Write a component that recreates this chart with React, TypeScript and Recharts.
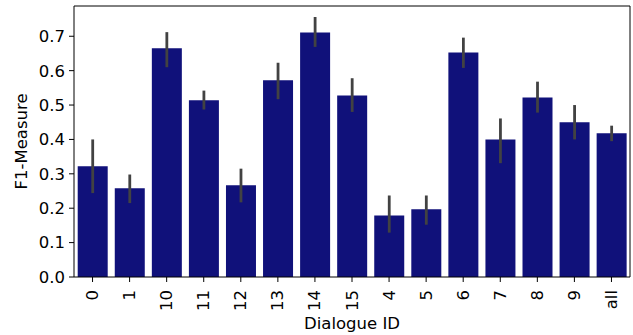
import React from 'react';
import { BarChart, Bar, XAxis, YAxis, ErrorBar } from 'recharts';

const categories = ['0', '1', '10', '11', '12', '13', '14', '15', '4', '5', '6', '7', '8', '9', 'all'];
const values = [0.322, 0.258, 0.665, 0.514, 0.267, 0.572, 0.711, 0.528, 0.179, 0.197, 0.653, 0.400, 0.522, 0.450, 0.418];
const ciLow = [0.244, 0.215, 0.610, 0.487, 0.217, 0.517, 0.669, 0.480, 0.129, 0.152, 0.608, 0.331, 0.478, 0.400, 0.395];
const ciHigh = [0.400, 0.298, 0.712, 0.542, 0.315, 0.623, 0.756, 0.578, 0.237, 0.237, 0.696, 0.461, 0.568, 0.500, 0.440];
const yTicks = [0, 0.1, 0.2, 0.3, 0.4, 0.5, 0.6, 0.7];

const data = categories.map((c, i) => ({
  name: c,
  value: values[i],
  err: [values[i] - ciLow[i], ciHigh[i] - values[i]],
}));

const FONT = 'DejaVu Sans';
const FS = 16.5;

const XTick = (props: any) => {
  const { x, y, payload } = props;
  return (
    <text
      x={x}
      y={y}
      transform={`rotate(-90, ${x}, ${y})`}
      textAnchor="end"
      dominantBaseline="central"
      fontFamily={FONT}
      fontSize={FS}
      fill="#000"
      dx={-6}
    >
      {payload.value}
    </text>
  );
};

export default function App() {
  return (
    <div style={{ position: 'absolute', left: 0, top: 0, width: 633, height: 335, background: '#fff' }}>
      <BarChart
        width={633}
        height={335}
        data={data}
        margin={{ top: 5, right: 2, bottom: 0, left: 0 }}
        barCategoryGap="10%"
      >
        <XAxis
          dataKey="name"
          xAxisId="top"
          orientation="top"
          height={1}
          tick={false}
          tickLine={false}
          axisLine={{ stroke: '#000', strokeWidth: 1 }}
        />
        <YAxis
          yAxisId="right"
          orientation="right"
          width={1}
          tick={false}
          tickLine={false}
          domain={[0, 0.788]}
          axisLine={{ stroke: '#000', strokeWidth: 1 }}
        />
        <XAxis
          dataKey="name"
          height={58}
          interval={0}
          tick={<XTick />}
          tickSize={5}
          tickLine={{ stroke: '#000' }}
          axisLine={{ stroke: '#000', strokeWidth: 1 }}
          label={{
            value: 'Dialogue ID',
            position: 'insideBottom',
            offset: 6,
            style: { fontFamily: FONT, fontSize: FS, fill: '#000' },
          }}
        />
        <YAxis
          width={74}
          domain={[0, 0.788]}
          ticks={yTicks}
          tickFormatter={(v: number) => v.toFixed(1)}
          tickSize={5}
          tickMargin={4}
          tickLine={{ stroke: '#000' }}
          axisLine={{ stroke: '#000', strokeWidth: 1 }}
          tick={{ fontFamily: FONT, fontSize: FS, fill: '#000' }}
          label={{
            value: 'F1-Measure',
            angle: -90,
            position: 'insideLeft',
            offset: 21,
            style: { fontFamily: FONT, fontSize: FS, fill: '#000', textAnchor: 'middle' },
          }}
        />
        <Bar dataKey="value" fill="#10117a" isAnimationActive={false}>
          <ErrorBar dataKey="err" width={0} stroke="#424242" strokeWidth={2.8} direction="y" />
        </Bar>
      </BarChart>
    </div>
  );
}
